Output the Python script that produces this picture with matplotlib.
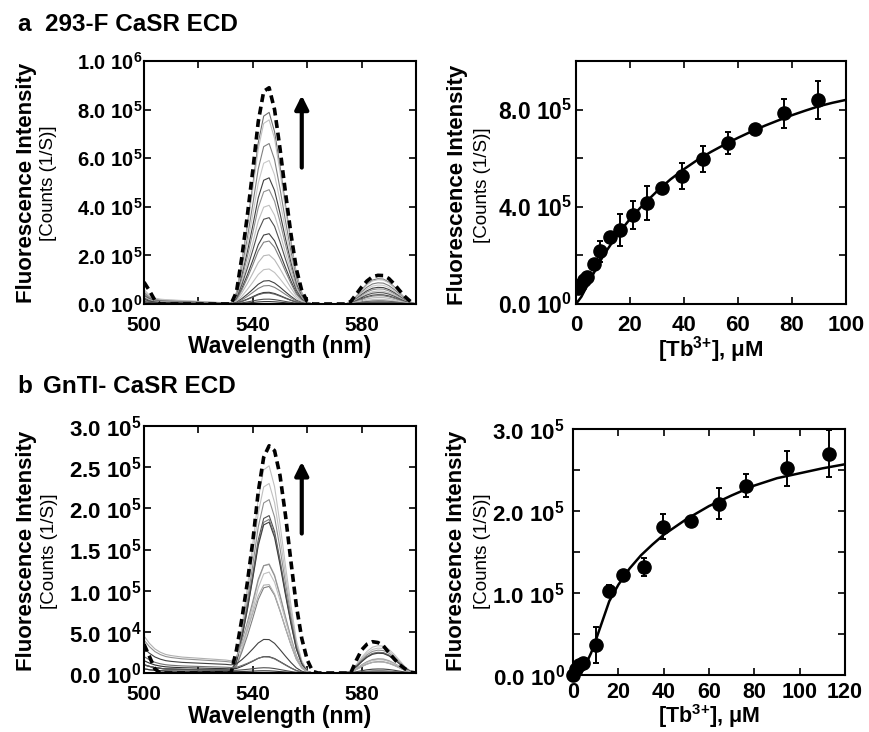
import numpy as np
import matplotlib
matplotlib.use("Agg")
import matplotlib.pyplot as plt

plt.rcParams["font.family"] = ["Liberation Sans", "DejaVu Sans"]
plt.rcParams["mathtext.fontset"] = "custom"
plt.rcParams["mathtext.rm"] = "Liberation Sans"
plt.rcParams["mathtext.default"] = "regular"

W, H = 870, 732

# ---- spectra: 2 nm grid 500..600 nm, values in 1e5 counts/s ----
wl = np.arange(500, 601, 2)

# dashed (final) spectrum, panel a
dash_a = [0.9, 0.55, 0.15, 0, 0, 0, 0, 0, 0, 0, 0, 0, 0, 0, 0, 0,
          0, 0.5, 1.95, 3.65, 5.5, 7.5, 8.75, 8.9, 8.0, 6.4, 4.6, 2.9, 1.45, 0.55, 0.1,
          0, 0, 0, 0, 0, 0, 0, 0.1, 0.4, 0.7, 0.95, 1.12, 1.18, 1.17, 1.05, 0.82, 0.55, 0.3, 0.1, 0.02]
# dashed (final) spectrum, panel b
dash_b = [0.35, 0.2, 0.05, 0, 0, 0, 0, 0, 0, 0, 0, 0, 0, 0, 0, 0,
          0, 0.28, 0.66, 1.1, 1.6, 2.2, 2.62, 2.76, 2.7, 2.4, 1.92, 1.36, 0.82, 0.42, 0.16,
          0.02, 0, 0, 0, 0, 0, 0, 0, 0.15, 0.28, 0.35, 0.38, 0.37, 0.33, 0.25, 0.17, 0.1, 0.05, 0.01, 0]
# emission band shape (no short-wavelength shoulder), normalised to 545 nm peak
band = [0, 0, 0, 0, 0, 0, 0, 0, 0, 0, 0, 0, 0, 0, 0, 0,
        0, 0.055, 0.22, 0.41, 0.62, 0.84, 0.98, 1.0, 0.9, 0.72, 0.52, 0.33, 0.16, 0.06, 0.01,
        0, 0, 0, 0, 0, 0, 0, 0.01, 0.04, 0.075, 0.105, 0.125, 0.132, 0.13, 0.115, 0.09, 0.06, 0.03, 0.01, 0]
# short-wavelength background shapes
tail_a_shape = [1.0, 0.6, 0.4, 0.33, 0.3, 0.28, 0.26, 0.24, 0.22, 0.2, 0.18, 0.16, 0.14, 0.12, 0.1, 0.09,
                0.08, 0.07, 0.06, 0.05, 0.04, 0.03, 0.02, 0.01] + [0] * 27
tail_b_shape = [1.0, 0.8, 0.65, 0.56, 0.5, 0.47, 0.45, 0.43, 0.42, 0.41, 0.4, 0.39, 0.38, 0.37, 0.36, 0.35,
                0.33, 0.3, 0.27, 0.24, 0.21, 0.18, 0.15, 0.12, 0.09, 0.06, 0.04, 0.02, 0.01] + [0] * 22

# titration spectra: 545 nm peak heights, background at 500 nm, grey level
peaks_a = [7.88, 7.57, 6.6, 5.9, 5.19, 4.7, 4.06, 3.55, 2.89, 2.59, 2.02, 1.44, 0.96, 0.76, 0.48, 0.45, 0.2, 0.1]
tails_a = [0.5, 0.6, 0.4, 0.55, 0.3, 0.45, 0.2, 0.35, 0.25, 0.15, 0.3, 0.1, 0.2, 0.05, 0.1, 0.05, 0.05, 0.02]
greys_a = ["#707070", "#c0c0c0", "#808080", "#c8c8c8", "#404040", "#909090", "#c0c0c0", "#505050",
           "#404040", "#808080", "#b8b8b8", "#c0c0c0", "#404040", "#808080", "#303030", "#606060",
           "#505050", "#303030"]

peaks_b = [2.51, 2.29, 2.10, 1.90, 1.86, 1.82, 1.32, 1.27, 1.22, 1.04, 1.02, 0.37, 0.18, 0.17, 0.05, 0.02]
tails_b = [0.05, 0.1, 0.05, 0.1, 0.05, 0.1, 0.05, 0.4, 0.05, 0.1, 0.45, 0.3, 0.15, 0.2, 0.1, 0.05]
greys_b = ["#c0c0c0", "#c0c0c0", "#909090", "#505050", "#808080", "#404040", "#b8b8b8", "#909090",
           "#c0c0c0", "#808080", "#b0b0b0", "#404040", "#303030", "#707070", "#505050", "#303030"]

# ---- Tb3+ titrations ----
tb_a = [0.8, 1.6, 2.8, 4.0, 6.5, 8.9, 12.6, 16.3, 21.2, 26.2, 31.7, 39.1, 47.2, 56.4, 66.3, 77.0, 89.8]
fl_a = [0.64, 0.77, 0.97, 1.1, 1.64, 2.17, 2.74, 3.04, 3.67, 4.17, 4.77, 5.27, 5.97, 6.64, 7.21, 7.84, 8.4]
err_a = [0, 0, 0, 0, 0, 0.44, 0, 0.65, 0.58, 0.7, 0, 0.53, 0.53, 0.45, 0, 0.61, 0.77]
fit_x_a = [0, 2, 5, 10, 15, 20, 25, 30, 35, 40, 45, 50, 55, 60, 65, 70, 75, 80, 85, 90, 95, 100]
fit_y_a = [0, 0.3, 0.95, 1.97, 2.8, 3.5, 4.1, 4.64, 5.13, 5.55, 5.93, 6.26, 6.56, 6.84, 7.1, 7.34, 7.56,
           7.77, 7.96, 8.14, 8.28, 8.4]

tb_b = [0, 1.5, 2.5, 4.2, 10.2, 16.1, 22.0, 31.2, 39.6, 52.0, 64.2, 76.5, 94.5, 113.1]
fl_b = [0.0, 0.07, 0.12, 0.15, 0.37, 1.03, 1.22, 1.32, 1.81, 1.88, 2.09, 2.31, 2.52, 2.70]
err_b = [0, 0, 0, 0, 0.22, 0.07, 0, 0.11, 0.15, 0, 0.19, 0.14, 0.21, 0.29]
fit_x_b = [0, 2, 4, 6, 8, 10, 13, 16, 20, 25, 30, 35, 40, 50, 60, 70, 80, 90, 100, 110, 120]
fit_y_b = [0, 0.02, 0.07, 0.15, 0.27, 0.42, 0.66, 0.9, 1.1, 1.3, 1.46, 1.59, 1.71, 1.9, 2.06, 2.19, 2.31,
           2.4, 2.46, 2.52, 2.57]

# tick labels
yt_a_spec = ["0.0 10$^0$", "2.0 10$^5$", "4.0 10$^5$", "6.0 10$^5$", "8.0 10$^5$", "1.0 10$^6$"]
yt_a_tit = ["0.0 10$^0$", "", "4.0 10$^5$", "", "8.0 10$^5$", ""]
yt_b_spec = ["0.0 10$^0$", "5.0 10$^4$", "1.0 10$^5$", "1.5 10$^5$", "2.0 10$^5$", "2.5 10$^5$", "3.0 10$^5$"]
yt_b_tit = ["0.0 10$^0$", "", "1.0 10$^5$", "", "2.0 10$^5$", "", "3.0 10$^5$"]
xt_spec = ["500", "", "540", "", "580", ""]


def box(l, t, r, b):
    return [l / W, 1 - b / H, (r - l) / W, (b - t) / H]


def style(ax, ysize, xsize, xpad, ypad):
    for s in ax.spines.values():
        s.set_linewidth(1.5)
    ax.tick_params(direction="in", top=True, right=True, length=5, width=1.2)
    ax.tick_params(axis="y", labelsize=ysize, pad=ypad)
    ax.tick_params(axis="x", labelsize=xsize, pad=xpad)
    for lab in ax.get_xticklabels() + ax.get_yticklabels():
        lab.set_fontweight("bold")


def spectra(ax, dash, peaks, tails, greys, tail_shape, ymax, arrow):
    band_arr = np.array(band)
    tail_arr = np.array(tail_shape)
    for p, tl, c in zip(peaks, tails, greys):
        ax.plot(wl, p * band_arr + tl * tail_arr, color=c, lw=0.8)
    ax.plot(wl, dash, color="black", lw=2.6, ls=(0, (2.2, 1.3)))
    ax.annotate("", xy=(558, arrow[1]), xytext=(558, arrow[0]),
                arrowprops=dict(arrowstyle="-|>", lw=3, color="black", mutation_scale=20))
    ax.set_xlim(500, 600)
    ax.set_ylim(0, ymax)
    ax.set_xticks(range(500, 601, 20), xt_spec)


fig = plt.figure(figsize=(W / 100, H / 100), dpi=100)

# panel a, spectra
ax1 = fig.add_axes(box(144, 61, 416, 304))
spectra(ax1, dash_a, peaks_a, tails_a, greys_a, tail_a_shape, 10, (5.5, 8.7))
ax1.set_yticks(np.arange(0, 10.1, 2), yt_a_spec)
style(ax1, 14.5, 15, 8.5, 1)

# panel a, titration
ax2 = fig.add_axes(box(576, 61, 846, 304))
ax2.plot(fit_x_a, fit_y_a, color="black", lw=1.8)
ax2.errorbar(tb_a, fl_a, yerr=err_a, fmt="o", color="black", ms=9.5, elinewidth=1.4, capsize=2.5, capthick=1.4)
ax2.set_xlim(0, 100)
ax2.set_ylim(0, 10)
ax2.set_xticks(range(0, 101, 20))
ax2.set_yticks(np.arange(0, 10.1, 2), yt_a_tit)
style(ax2, 16.5, 16, 8, 3)

# panel b, spectra
ax3 = fig.add_axes(box(144, 426, 416, 673))
spectra(ax3, dash_b, peaks_b, tails_b, greys_b, tail_b_shape, 3, (1.66, 2.6))
ax3.set_yticks(np.arange(0, 3.01, 0.5), yt_b_spec)
style(ax3, 16, 15, 8.5, 2)

# panel b, titration
ax4 = fig.add_axes(box(573, 429, 845, 675))
ax4.plot(fit_x_b, fit_y_b, color="black", lw=1.8)
ax4.errorbar(tb_b, fl_b, yerr=err_b, fmt="o", color="black", ms=9.5, elinewidth=1.4, capsize=2.5, capthick=1.4,
             clip_on=False)
ax4.set_xlim(0, 120)
ax4.set_ylim(0, 3)
ax4.set_xticks(range(0, 121, 20))
ax4.set_yticks(np.arange(0, 3.01, 0.5), yt_b_tit)
style(ax4, 16, 15.5, 5, 6)


def ftext(x, y, s, **kw):
    fig.text(x / W, 1 - y / H, s, **kw)


# y labels
for xf, xc, yc in [(27, 49, 183), (458, 483, 185), (27, 49.5, 551), (457, 483, 551)]:
    ftext(xf, yc, "Fluorescence Intensity", rotation=90, ha="center", va="center", fontsize=16, fontweight="bold")
    ftext(xc, yc, "[Counts (1/S)]", rotation=90, ha="center", va="center", fontsize=13.5)

# x labels
ftext(280, 347, "Wavelength (nm)", ha="center", va="center", fontsize=16.5, fontweight="bold")
ftext(280, 716, "Wavelength (nm)", ha="center", va="center", fontsize=16.5, fontweight="bold")
ftext(711, 350, "[Tb$^{3{+}}$], μM", ha="center", va="center", fontsize=16, fontweight="bold")
ftext(709, 716, "[Tb$^{3{+}}$], μM", ha="center", va="center", fontsize=15.5, fontweight="bold")

# panel titles
ftext(17, 31, "a", ha="left", va="baseline", fontsize=17.5, fontweight="bold")
ftext(45, 31, "293-F CaSR ECD", ha="left", va="baseline", fontsize=17.5, fontweight="bold")
ftext(17, 393, "b", ha="left", va="baseline", fontsize=17.5, fontweight="bold")
ftext(43, 393, "GnTI- CaSR ECD", ha="left", va="baseline", fontsize=17.5, fontweight="bold")

fig.savefig("out.png", dpi=100)
